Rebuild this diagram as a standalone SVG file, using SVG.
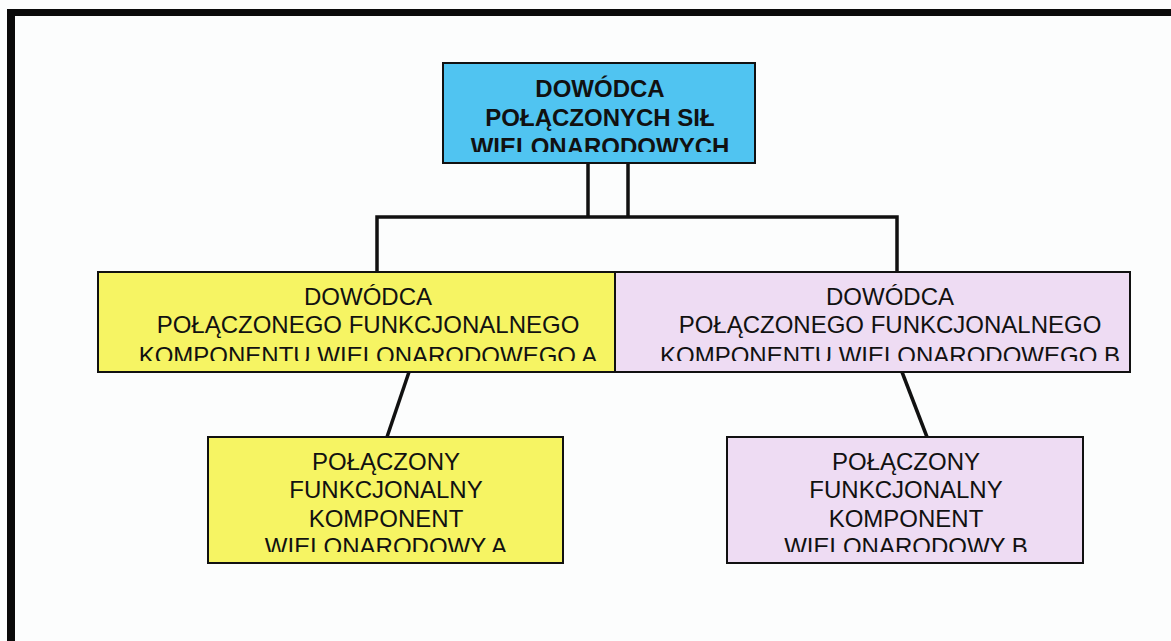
<svg xmlns="http://www.w3.org/2000/svg" width="1171" height="641" viewBox="0 0 1171 641">
  <style>
    .box { stroke: #111; stroke-width: 2; }
    .blue { fill: #50c4f1; }
    .yellow { fill: #f6f463; }
    .lilac { fill: #eedcf3; }
    .lbl { font-family: "Liberation Sans", Arial, sans-serif; font-size: 24px; fill: #111; text-anchor: middle; }
    .bold { font-weight: bold; }
    .wire { stroke: #111; stroke-width: 3.5; fill: none; }
  </style>
  <defs>
    <clipPath id="clipTop"><rect x="443" y="63" width="312" height="89"/></clipPath>
    <clipPath id="clipMidA"><rect x="98" y="272" width="517" height="89"/></clipPath>
    <clipPath id="clipMidB"><rect x="615" y="272" width="515" height="89"/></clipPath>
    <clipPath id="clipLowA"><rect x="208" y="437" width="355" height="115"/></clipPath>
    <clipPath id="clipLowB"><rect x="727" y="437" width="356" height="115"/></clipPath>
  </defs>

  <rect width="1171" height="641" fill="#fcfdfd"/>

  <!-- page frame: top and left rules -->
  <g id="frame">
    <rect x="7" y="9" width="1164" height="7" fill="#0a0a0a"/>
    <rect x="7" y="9" width="8" height="632" fill="#0a0a0a"/>
  </g>

  <g id="connectors">
    <line class="wire" x1="588" y1="163" x2="588" y2="217"/>
    <line class="wire" x1="628" y1="163" x2="628" y2="217"/>
    <polyline class="wire" points="377,272 377,217 897,217 897,272"/>
    <line class="wire" x1="409" y1="372" x2="387" y2="437"/>
    <line class="wire" x1="902" y1="372" x2="927" y2="437"/>
  </g>

  <g id="node-top">
    <rect class="box blue" x="443" y="63" width="312" height="100"/>
    <g clip-path="url(#clipTop)">
      <text class="lbl bold" x="600" y="97">DOWÓDCA</text>
      <text class="lbl bold" x="600" y="126">POŁĄCZONYCH SIŁ</text>
      <text class="lbl bold" x="600" y="155">WIELONARODOWYCH</text>
    </g>
  </g>

  <g id="node-mid-a">
    <rect class="box yellow" x="98" y="272" width="517" height="100"/>
    <g clip-path="url(#clipMidA)">
      <text class="lbl" x="368" y="305">DOWÓDCA</text>
      <text class="lbl" x="368" y="333">POŁĄCZONEGO FUNKCJONALNEGO</text>
      <text class="lbl" x="368" y="364">KOMPONENTU WIELONARODOWEGO A</text>
    </g>
  </g>

  <g id="node-mid-b">
    <rect class="box lilac" x="615" y="272" width="515" height="100"/>
    <g clip-path="url(#clipMidB)">
      <text class="lbl" x="890" y="305">DOWÓDCA</text>
      <text class="lbl" x="890" y="333">POŁĄCZONEGO FUNKCJONALNEGO</text>
      <text class="lbl" x="890" y="364">KOMPONENTU WIELONARODOWEGO B</text>
    </g>
  </g>

  <g id="node-low-a">
    <rect class="box yellow" x="208" y="437" width="355" height="126"/>
    <g clip-path="url(#clipLowA)">
      <text class="lbl" x="386" y="470">POŁĄCZONY</text>
      <text class="lbl" x="386" y="498">FUNKCJONALNY</text>
      <text class="lbl" x="386" y="527">KOMPONENT</text>
      <text class="lbl" x="386" y="555">WIELONARODOWY A</text>
    </g>
  </g>

  <g id="node-low-b">
    <rect class="box lilac" x="727" y="437" width="356" height="126"/>
    <g clip-path="url(#clipLowB)">
      <text class="lbl" x="906" y="470">POŁĄCZONY</text>
      <text class="lbl" x="906" y="498">FUNKCJONALNY</text>
      <text class="lbl" x="906" y="527">KOMPONENT</text>
      <text class="lbl" x="906" y="555">WIELONARODOWY B</text>
    </g>
  </g>
</svg>
